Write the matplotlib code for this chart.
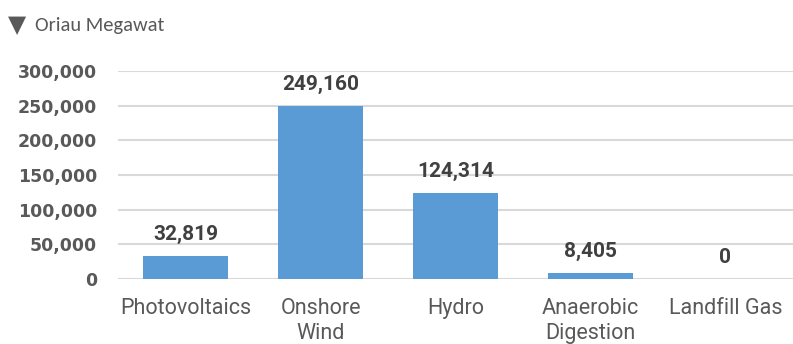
import matplotlib.pyplot as plt
from matplotlib.ticker import FuncFormatter

categories = ['Photovoltaics', 'Onshore\nWind', 'Hydro', 'Anaerobic\nDigestion', 'Landfill Gas']
values = [32819, 249160, 124314, 8405, 0]
yticks = [0, 50000, 100000, 150000, 200000, 250000, 300000]
subtitle = 'Oriau Megawat'

rob = ['Roboto', 'DejaVu Sans']

fig = plt.figure(figsize=(7.93, 3.44), dpi=100)
ax = fig.add_axes([118 / 793, 1 - 279 / 344, 1 - 118 / 793, (279 - 71) / 344])

x = range(len(categories))
ax.bar(x, values, width=0.63, color='#5B9BD5', zorder=3)
for xi, v in zip(x, values):
    ax.annotate(f'{v:,}', (xi, v), xytext=(0, 11.5), textcoords='offset points',
                ha='center', va='baseline', fontsize=15, fontweight='bold',
                color='#404040', family=rob)

ax.set_xlim(-0.5, len(categories) - 0.5)
ax.set_ylim(0, 300000)
ax.set_yticks(yticks)
ax.yaxis.set_major_formatter(FuncFormatter(lambda v, p: f'{int(v):,}'))
ax.grid(axis='y', color='#D9D9D9', linewidth=1.5, zorder=0)
for s in ax.spines.values():
    s.set_visible(False)
ax.tick_params(axis='y', length=0, pad=15, labelsize=12.5, labelcolor='#595959')
for lab in ax.get_yticklabels():
    lab.set_fontweight('bold')
ax.set_xticks(list(x))
ax.set_xticklabels(categories, fontsize=15.5, color='#595959', linespacing=1.22,
                   family=rob)
ax.tick_params(axis='x', length=0, pad=14)

# subtitle with the little triangle marker
fig.text(8 / 793, 1 - 25 / 344, '▼', fontsize=17, color='#595959',
         va='center', ha='left', family=['DejaVu Sans'])
fig.text(35 / 793, 1 - 25 / 344, subtitle, fontsize=14.8, color='#595959',
         va='center', ha='left', family=['Carlito', 'Open Sans', 'DejaVu Sans'])

fig.savefig('out.png', dpi=100)
